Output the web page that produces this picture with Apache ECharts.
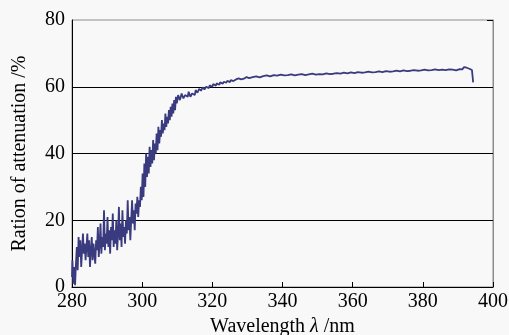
<!DOCTYPE html>
<html><head><meta charset="utf-8">
<script src="https://cdn.jsdelivr.net/npm/echarts@6/dist/echarts.min.js"></script>
<style>html,body{margin:0;padding:0;background:#f8f8f8}#c{width:509px;height:335px}</style>
</head><body><div id="c"></div>
<script>
// Wavelength (nm)
const wavelength = [
280,280.25,280.5,280.75,281,281.25,281.5,281.75,282,282.25,282.5,282.75,283,283.25,283.5,283.75,
284,284.25,284.5,284.75,285,285.25,285.5,285.75,286,286.25,286.5,286.75,287,287.25,287.5,287.75,
288,288.25,288.5,288.75,289,289.25,289.5,289.75,290,290.25,290.5,290.75,291,291.25,291.5,291.75,
292,292.25,292.5,292.75,293,293.25,293.5,293.75,294,294.25,294.5,294.75,295,295.25,295.5,295.75,
296,296.25,296.5,296.75,297,297.25,297.5,297.75,298,298.25,298.5,298.75,299,299.25,299.5,299.75,
300,300.25,300.5,300.75,301,301.25,301.5,301.75,302,302.25,302.5,302.75,303,303.25,303.5,303.75,
304,304.25,304.5,304.75,305,305.25,305.5,305.75,306,306.25,306.5,306.75,307,307.25,307.5,307.75,
308,308.25,308.5,308.75,309,309.25,309.5,309.75,
310,310.5,311,311.5,312,312.5,313,313.5,314,314.5,315,315.5,316,316.5,317,317.5,318,318.5,319,319.5,
320,320.5,321,321.5,322,322.5,323,323.5,324,324.5,325,325.5,326,326.5,327,327.5,328,328.5,329,329.5,
330,331,332,333,334,335,336,337,338,339,340,341,342,343,344,345,346,347,348,349,
350,351,352,353,354,355,356,357,358,359,360,361,362,363,364,365,366,367,368,369,
370,371,372,373,374,375,376,377,378,379,380,381,382,383,384,385,386,387,388,389,
390,391,391.5,392,392.5,393,393.5,394,394.3,394.4
];
// Ratio of attenuation (%)
const ratio = [
3,8,1,6,0.5,7,12,5,15,9,14,6,11,16,10,13,
8,12,16,9,14,6,11,15,8,13,10,7,14,11,18,9,
13,19,10,15,12,23,11,16,13,21,12,17,10,18,14,22,
12,17,13,20,11,16,24,14,19,12,23,15,18,13,20,16,
26,17,21,14,20,26,19,23,17,25,22,27,21,26,24,30,
26,34,27,37,30,40,33,39,34,42,36,41,37,44,38,43,
40,46,41,48,43,47,45,50,46,49,47,52,48,51,49,53,
50,54,51,55,52,56,53,57,
55,57.5,56,58,56.5,57.5,57,58.5,57,58,57.5,59,58.2,59.4,58.8,59.8,59.2,60,59.6,60.4,
60,60.8,60.3,61,60.6,61.3,60.9,61.5,61.2,61.8,61.4,62,61.7,62.2,62,62.5,62.2,62.6,62.4,62.9,
62.6,62.9,63.1,62.8,63.2,63.4,63.1,63.5,63.3,63.6,63.4,63.5,63.7,63.4,63.6,63.8,63.5,63.7,63.9,63.6,
63.8,63.7,64.0,63.8,63.9,64.1,63.9,64.2,64.0,64.3,64.1,64.4,64.2,64.3,64.5,64.3,64.4,64.6,64.4,64.7,
64.5,64.6,64.8,64.6,64.9,64.7,64.8,65.0,64.8,64.9,65.1,64.9,65.0,65.2,65.0,65.1,65.0,65.2,65.1,64.9,
65.3,65.2,65.6,65.9,65.7,65.4,65.5,65.0,64.6,61.3
];
const xTickMin = 280, xTickMax = 400, xTickStep = 20;
const yTickMin = 0, yTickMax = 80, yTickStep = 20;

const data = wavelength.map((w, i) => [w, ratio[i]]);
const serif = 'Liberation Serif';
const chart = echarts.init(document.getElementById('c'), null, {renderer: 'canvas'});
chart.setOption({
  backgroundColor: '#f8f8f8',
  animation: false,
  grid: {left: 72, right: 16, top: 20, bottom: 48, outerBoundsMode: 'none', containLabel: false,
         show: true, borderColor: '#8c8c8c', borderWidth: 1, backgroundColor: 'transparent'},
  xAxis: {
    type: 'value', min: xTickMin, max: xTickMax, interval: xTickStep,
    axisLine: {lineStyle: {color: '#000', width: 1}},
    axisTick: {inside: true, length: 5, lineStyle: {color: '#000'}},
    axisLabel: {color: '#000', fontFamily: serif, fontSize: 20, margin: 5},
    splitLine: {show: false},
    name: '{n|Wavelength }{i|λ}{n| /nm}',
    nameLocation: 'middle', nameGap: 24,
    nameTextStyle: {
      rich: {
        n: {fontFamily: serif, fontSize: 20, color: '#000'},
        i: {fontFamily: serif, fontSize: 20, fontStyle: 'italic', color: '#000'}
      }
    }
  },
  yAxis: [{
    type: 'value', min: yTickMin, max: yTickMax, interval: yTickStep,
    axisLine: {show: true, lineStyle: {color: '#000', width: 1}},
    axisTick: {show: false},
    axisLabel: {color: '#000', fontFamily: serif, fontSize: 20, margin: 7},
    splitLine: {show: true, showMinLine: false, showMaxLine: false, lineStyle: {color: '#000', width: 1}},
    name: 'Ration of attenuation /%',
    nameLocation: 'middle', nameGap: 42,
    nameTextStyle: {fontFamily: serif, fontSize: 20, color: '#000'}
  }, {
    type: 'value', position: 'right', min: yTickMin, max: yTickMax, interval: yTickStep,
    axisLine: {show: true, lineStyle: {color: '#8c8c8c', width: 1}},
    axisTick: {show: true, inside: true, length: 6, lineStyle: {color: '#000'}},
    axisLabel: {show: false},
    splitLine: {show: false}
  }],
  series: [{
    type: 'line', data: data, showSymbol: false, step: 'middle',
    lineStyle: {color: '#3a3a7e', width: 1.8},
    yAxisIndex: 0
  }]
});
</script>
</body></html>
